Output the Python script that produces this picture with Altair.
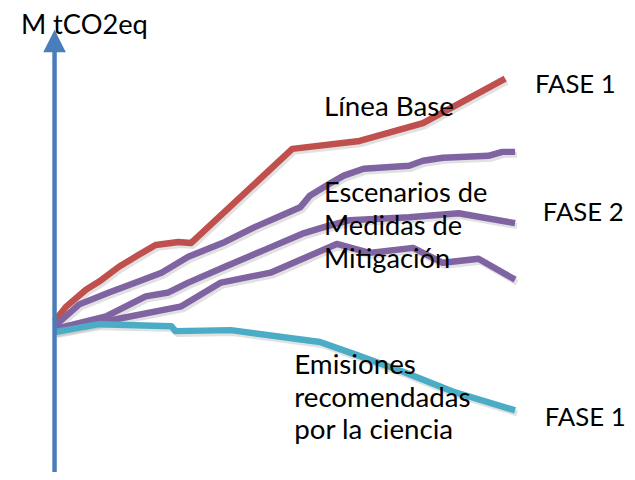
import altair as alt
import pandas as pd

# ---- data (x: distance from vertical axis, y: height above start level) ----
base_x = [0, 12, 32, 45, 65, 85, 102, 125, 138, 240, 308, 372, 455]
base_y = [8, 23, 40, 48, 63, 75, 85, 88, 87, 182, 190, 208, 253]

mit1_x = [0, 25, 55, 82, 108, 135, 172, 202, 225, 248, 258, 278, 292, 312, 358, 372, 392, 438, 452, 465]
mit1_y = [3, 25, 37, 47, 57, 73, 88, 103, 113, 123, 135, 147, 155, 162, 165, 170, 173, 175, 179, 179]

mit2_x = [0, 52, 92, 115, 135, 172, 212, 252, 272, 298, 358, 408, 465]
mit2_y = [0, 13, 33, 37, 47, 63, 80, 97, 103, 110, 113, 117, 107]

mit3_x = [0, 62, 128, 168, 218, 285, 318, 362, 392, 428, 465]
mit3_y = [-2, 10, 23, 47, 57, 86, 77, 82, 67, 71, 50]

sci_x = [0, 45, 118, 122, 178, 268, 302, 352, 402, 465]
sci_y = [-3, 5, 3, -2, -1, -13, -25, -43, -63, -82]

series_names = ["Línea Base", "Mitigación A", "Mitigación B", "Mitigación C", "Ciencia"]
series_colors = ["#C0504D", "#8064A2", "#8064A2", "#8064A2", "#4BACC6"]

label_text = ["M tCO2eq", "Línea Base", "Escenarios de", "Medidas de", "Mitigación",
              "Emisiones", "recomendadas", "por la ciencia", "FASE 1", "FASE 2", "FASE 1"]
label_x = [-34, 272, 272, 272, 272, 242, 242, 242, 485, 493, 495]
label_y = [298, 215, 128, 95, 62, -45, -79, -111, 238, 109, -98]
label_size = [27.5, 28, 27.5, 27.5, 27.5, 28, 28, 28, 26, 26, 26]

axis_x = [0]
axis_bottom = [-160]
axis_top = [284]
arrow_tip_y = [291]

# ---- build tables ----
rows = []
for name, xs, ys in zip(series_names,
                        [base_x, mit1_x, mit2_x, mit3_x, sci_x],
                        [base_y, mit1_y, mit2_y, mit3_y, sci_y]):
    for i, (xv, yv) in enumerate(zip(xs, ys)):
        rows.append({"series": name, "x": xv, "y": yv, "i": i})
lines_df = pd.DataFrame(rows)
labels_df = pd.DataFrame({"text": label_text, "x": label_x, "y": label_y, "size": label_size})
axis_df = pd.DataFrame({"x": axis_x, "y": axis_bottom, "y2": axis_top})
arrow_df = pd.DataFrame({"x": axis_x, "y": arrow_tip_y})

X = alt.X("x:Q", scale=alt.Scale(domain=[-47, 578]), axis=None)
Y = alt.Y("y:Q", scale=alt.Scale(domain=[-142, 322]), axis=None)

shadow = alt.Chart(lines_df).mark_line(
    strokeWidth=6, color="#888888", opacity=0.25, xOffset=2, yOffset=3,
    strokeCap="butt", strokeJoin="round"
).encode(x=X, y=Y, detail="series:N", order="i:Q")

lines = alt.Chart(lines_df).mark_line(
    strokeWidth=6.5, strokeCap="butt", strokeJoin="round"
).encode(
    x=X, y=Y, order="i:Q",
    color=alt.Color("series:N", scale=alt.Scale(domain=series_names, range=series_colors), legend=None),
)

axis_rule = alt.Chart(axis_df).mark_rule(color="#4A7EBB", strokeWidth=4.5).encode(
    x=X, y=Y, y2="y2:Q"
)

arrow = alt.Chart(arrow_df).mark_point(
    shape="M0,-1L1,1L-1,1Z", filled=True, size=520, color="#4A7EBB", opacity=1
).encode(x=X, y=Y)

texts = alt.Chart(labels_df).mark_text(
    align="left", baseline="alphabetic", font="Lato", color="#000000"
).encode(x=X, y=Y, text="text:N", size=alt.Size("size:Q", scale=None, legend=None))

chart = alt.layer(shadow, lines, axis_rule, arrow, texts).properties(
    width=625, height=464, padding=0, autosize="none"
).configure_view(stroke=None)

chart.save("out.html", embed_options={"renderer": "svg", "actions": False})
